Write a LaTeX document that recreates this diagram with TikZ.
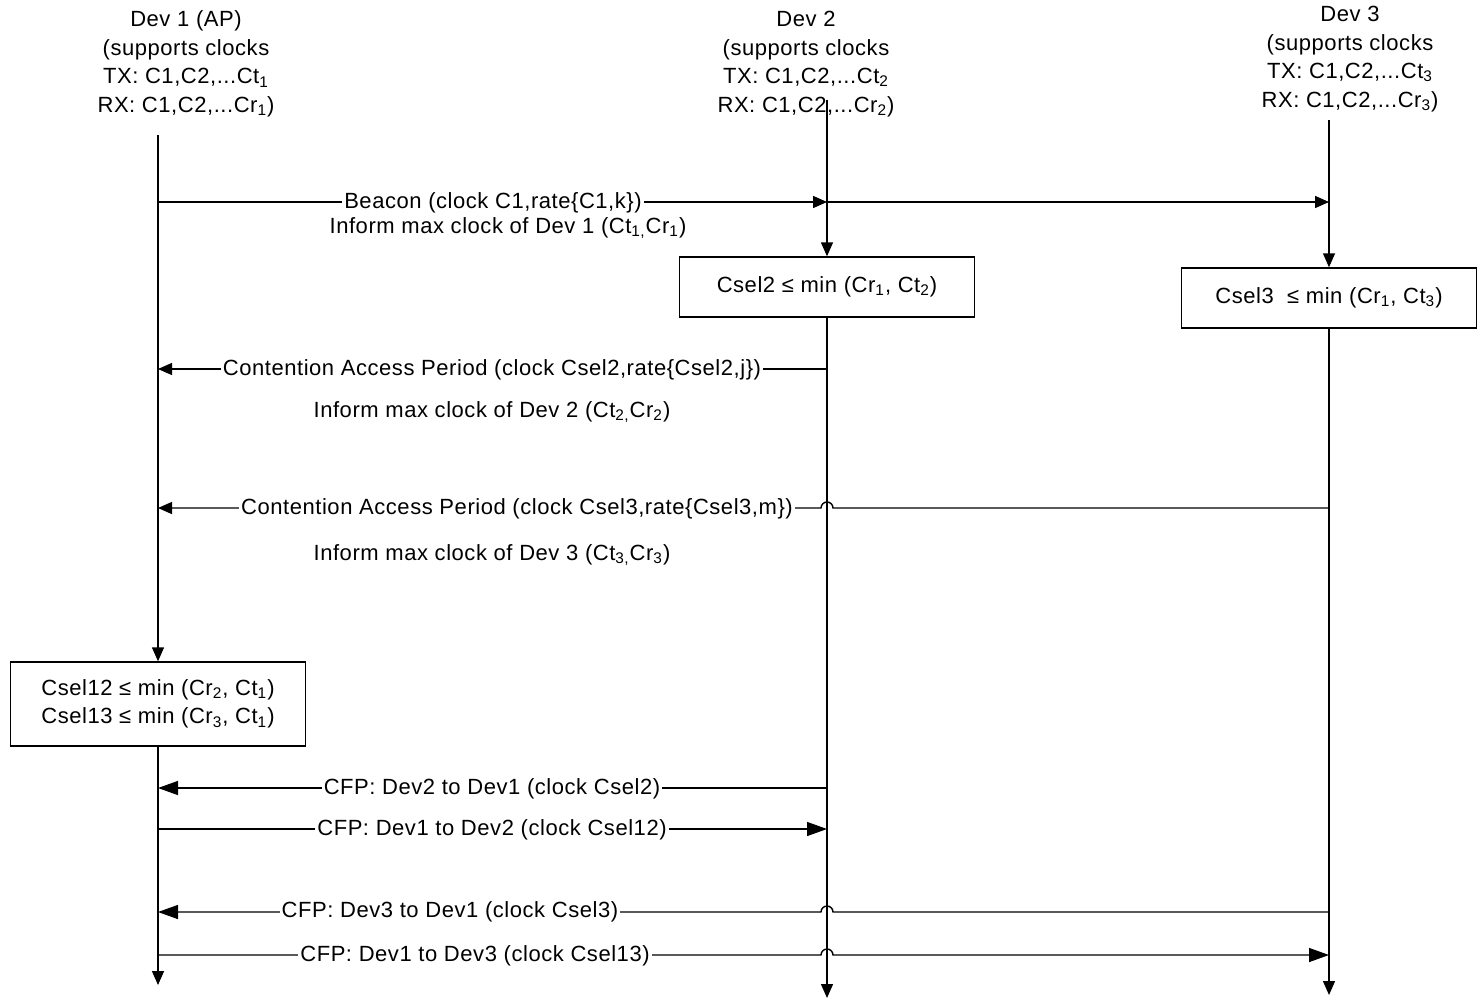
\documentclass[tikz,border=0pt]{standalone}
\usepackage{fontspec}
\setmainfont{Liberation Sans}[LetterSpace=2.5]
\usetikzlibrary{arrows.meta}
\begin{document}
\begin{tikzpicture}[x=0.5pt,y=-0.5pt,
  every node/.style={font=\fontsize{11}{14.25}\selectfont},
  tip/.style={-{Triangle[length=7pt,width=6pt]}},
  bigtip/.style={-{Triangle[length=10pt,width=7pt]}},
  ln/.style={line width=0.7pt, draw=black},
  lbl/.style={fill=white, inner sep=1pt},
  txt/.style={inner sep=0pt},
  hdr/.style={align=center, inner sep=0pt},
  box/.style={draw, line width=0.7pt, minimum width=147.5pt, align=center}]
\useasboundingbox (0,0) rectangle (1481,1000);

% headers
\node[hdr] (h1) at (186,64) {Dev 1 (AP)\\(supports clocks\\TX: C1,C2,...Ct\textsubscript{1}\\RX: C1,C2,...Cr\textsubscript{1})};
\node[hdr] (h2) at (806,64) {Dev 2\\(supports clocks\\TX: C1,C2,...Ct\textsubscript{2}\\RX: C1,C2,...Cr\textsubscript{2})};
\node[hdr] (h3) at (1350,59) {Dev 3\\(supports clocks\\TX: C1,C2,...Ct\textsubscript{3}\\RX: C1,C2,...Cr\textsubscript{3})};

% lifeline ends
\coordinate (t1) at (158,135); \coordinate (e1) at (158,985);
\coordinate (t2) at (827,100); \coordinate (e2) at (827,998);
\coordinate (t3) at (1329,120); \coordinate (e3) at (1329,995);

% boxes
\node[box, minimum height=30pt] (b2) at (827,287) {Csel2 ≤ min (Cr\textsubscript{1}, Ct\textsubscript{2})};
\node[box, minimum height=30pt] (b3) at (1329,298) {Csel3\ \ ≤ min (Cr\textsubscript{1}, Ct\textsubscript{3})};
\node[box, minimum height=42pt] (b1) at (158,704) {Csel12 ≤ min (Cr\textsubscript{2}, Ct\textsubscript{1})\\Csel13 ≤ min (Cr\textsubscript{3}, Ct\textsubscript{1})};

% lifelines
\draw[ln,tip] (t1) -- (b1.north);
\draw[ln,tip] (b1.south) -- (e1);
\draw[ln,tip] (t2) -- (b2.north);
\draw[ln,tip] (b2.south) -- (e2);
\draw[ln,tip] (t3) -- (b3.north);
\draw[ln,tip] (b3.south) -- (e3);

% message end points
\coordinate (a1) at (158,202); \coordinate (a2) at (827,202); \coordinate (a3) at (1329,202);
\coordinate (c1) at (158,369); \coordinate (c2) at (827,369);
\coordinate (d1) at (158,508); \coordinate (d2) at (833,508); \coordinate (d3) at (1329,508);
\coordinate (f1) at (158,788); \coordinate (f2) at (827,788);
\coordinate (g1) at (158,829); \coordinate (g2) at (827,829);
\coordinate (k1) at (158,912); \coordinate (k2) at (833,912); \coordinate (k3) at (1329,912);
\coordinate (m1) at (158,955); \coordinate (m2) at (821,955); \coordinate (m3) at (1329,955);

% messages
\draw[ln,tip] (a1) -- (a2);
\draw[ln,tip] (a2) -- (a3);
\draw[ln,tip] (c2) -- (c1);
\draw[ln,tip] (d3) -- (d2) arc[start angle=0,end angle=180,radius=3pt] -- (d1);
\draw[ln,bigtip] (f2) -- (f1);
\draw[ln,bigtip] (g1) -- (g2);
\draw[ln,bigtip] (k3) -- (k2) arc[start angle=0,end angle=180,radius=3pt] -- (k1);
\draw[ln,bigtip] (m1) -- (m2) arc[start angle=180,end angle=0,radius=3pt] -- (m3);

% labels
\node[lbl] (l1) at (493,203) {Beacon (clock C1,rate\{C1,k\})};
\node[txt] (l1b) at (508,228) {Inform max clock of Dev 1 (Ct\textsubscript{1,}Cr\textsubscript{1})};
\node[lbl] (l2) at (492,370) {Contention Access Period (clock Csel2,rate\{Csel2,j\})};
\node[txt] (l2b) at (492,412) {Inform max clock of Dev 2 (Ct\textsubscript{2,}Cr\textsubscript{2})};
\node[lbl] (l3) at (517,509) {Contention Access Period (clock Csel3,rate\{Csel3,m\})};
\node[txt] (l3b) at (492,555) {Inform max clock of Dev 3 (Ct\textsubscript{3,}Cr\textsubscript{3})};
\node[lbl] (l4) at (492,789) {CFP: Dev2 to Dev1 (clock Csel2)};
\node[lbl] (l5) at (492,830) {CFP: Dev1 to Dev2 (clock Csel12)};
\node[lbl] (l6) at (450,912) {CFP: Dev3 to Dev1 (clock Csel3)};
\node[lbl] (l7) at (475,956) {CFP: Dev1 to Dev3 (clock Csel13)};
\end{tikzpicture}
\end{document}
